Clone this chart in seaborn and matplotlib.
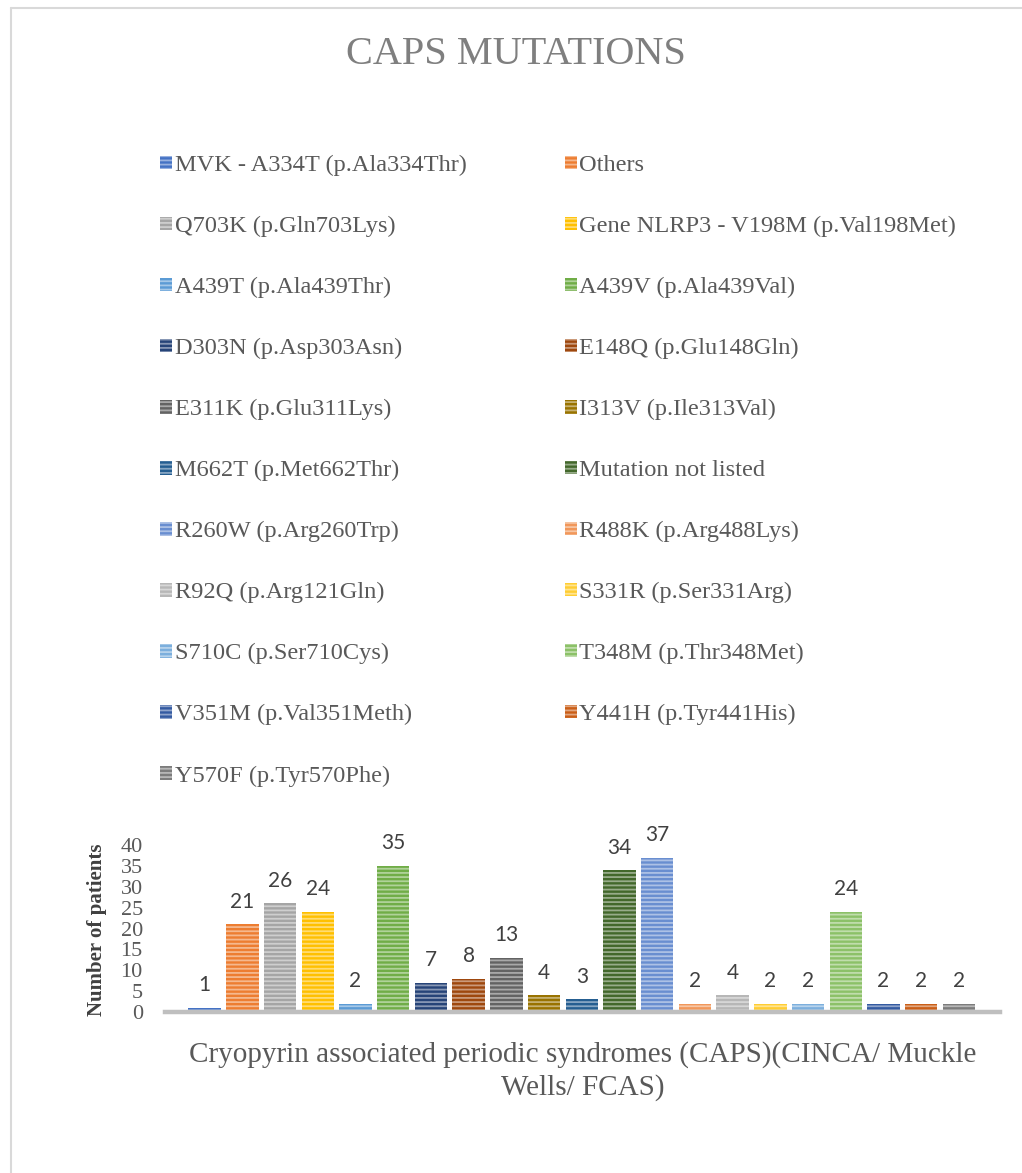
import matplotlib
matplotlib.use("Agg")
import matplotlib.pyplot as plt
from matplotlib.patches import Patch
from matplotlib.lines import Line2D
from matplotlib.colors import to_rgb
import seaborn as sns

# Mutations and patient counts
mutations = [
    "MVK - A334T (p.Ala334Thr)", "Others", "Q703K (p.Gln703Lys)",
    "Gene NLRP3 - V198M (p.Val198Met)", "A439T (p.Ala439Thr)", "A439V (p.Ala439Val)",
    "D303N (p.Asp303Asn)", "E148Q (p.Glu148Gln)", "E311K (p.Glu311Lys)",
    "I313V (p.Ile313Val)", "M662T (p.Met662Thr)", "Mutation not listed",
    "R260W (p.Arg260Trp)", "R488K (p.Arg488Lys)", "R92Q (p.Arg121Gln)",
    "S331R (p.Ser331Arg)", "S710C (p.Ser710Cys)", "T348M (p.Thr348Met)",
    "V351M (p.Val351Meth)", "Y441H (p.Tyr441His)", "Y570F (p.Tyr570Phe)",
]
patients = [1, 21, 26, 24, 2, 35, 7, 8, 13, 4, 3, 34, 37, 2, 4, 2, 2, 24, 2, 2, 2]
bar_colors = [
    "#4472C4", "#ED7D31", "#A5A5A5", "#FFC000", "#5B9BD5", "#70AD47",
    "#264478", "#9E480E", "#636363", "#997300", "#255E91", "#43682B",
    "#698ED0", "#F1975A", "#B7B7B7", "#FFCD33", "#7CAFDD", "#8CC168",
    "#335AA1", "#CA5E17", "#7C7C7C",
]
title = "CAPS MUTATIONS"
x_title = "Cryopyrin associated periodic syndromes (CAPS)(CINCA/ Muckle\nWells/ FCAS)"
y_title = "Number of patients"
y_ticks = [0, 5, 10, 15, 20, 25, 30, 35, 40]

sns.set_theme(style="white")
plt.rcParams["font.family"] = ["Liberation Serif", "DejaVu Serif"]
plt.rcParams["hatch.linewidth"] = 1.3

W, H = 1022, 1173
fig = plt.figure(figsize=(W / 100, H / 100), dpi=100)
ax = fig.add_axes([165 / W, 1 - 1012 / H, (1000 - 165) / W, (1012 - 845) / H])


def lighten(c, f=0.45):
    r, g, b = to_rgb(c)
    return (r + (1 - r) * f, g + (1 - g) * f, b + (1 - b) * f)


sns.barplot(x=mutations, y=patients, hue=mutations, order=mutations,
            hue_order=mutations, palette=bar_colors, width=0.86,
            legend=False, ax=ax, saturation=1)

for patch, col in zip(ax.patches, bar_colors):
    patch.set_edgecolor(lighten(col))
    patch.set_hatch("----")
    patch.set_linewidth(0)

for cont in ax.containers:
    ax.bar_label(cont, padding=9, fontsize=15, color="#404040", family="Lato")

ax.set_xlim(-1.05, 21.09)
ax.set_ylim(0, 40)
ax.set_yticks(y_ticks)
ax.tick_params(axis="y", length=0, pad=16, labelsize=16, labelcolor="#595959")
ax.set_xticks([])
for side in ["top", "right", "left"]:
    ax.spines[side].set_visible(False)
ax.spines["bottom"].set_color("#BFBFBF")
ax.spines["bottom"].set_linewidth(3.2)
ax.set_xlabel(x_title, fontsize=21, color="#595959", labelpad=21, linespacing=1.3)
ax.set_ylabel("")

fig.text(97 / W, 1 - 930 / H, y_title, rotation=90, ha="center", va="center",
         fontsize=15, fontweight="bold", color="#404040")

fig.text(516 / W, 1 - 55 / H, title, ha="center", va="center",
         fontsize=29, color="#7F7F7F")

# Legend laid out row by row in two columns
n = len(mutations)
order = list(range(0, n, 2)) + list(range(1, n, 2))
handles = [Patch(facecolor=bar_colors[i], edgecolor=lighten(bar_colors[i]),
                 hatch="----", linewidth=0, label=mutations[i]) for i in order]
fig.legend(handles=handles, loc="upper left",
           bbox_to_anchor=(160 / W, 1 - 155 / H), ncol=2, frameon=False,
           fontsize=17.6, labelcolor="#595959", handlelength=0.49,
           handleheight=0.49, handletextpad=0.12, borderpad=0, borderaxespad=0,
           columnspacing=4.0, labelspacing=1.63)

# Chart frame
fig.add_artist(Line2D([11 / W, 11 / W], [0, 1 - 8 / H], color="#D9D9D9", lw=1.5))
fig.add_artist(Line2D([11 / W, 1], [1 - 8 / H, 1 - 8 / H], color="#D9D9D9", lw=1.5))

fig.savefig("out.png", dpi=100)
